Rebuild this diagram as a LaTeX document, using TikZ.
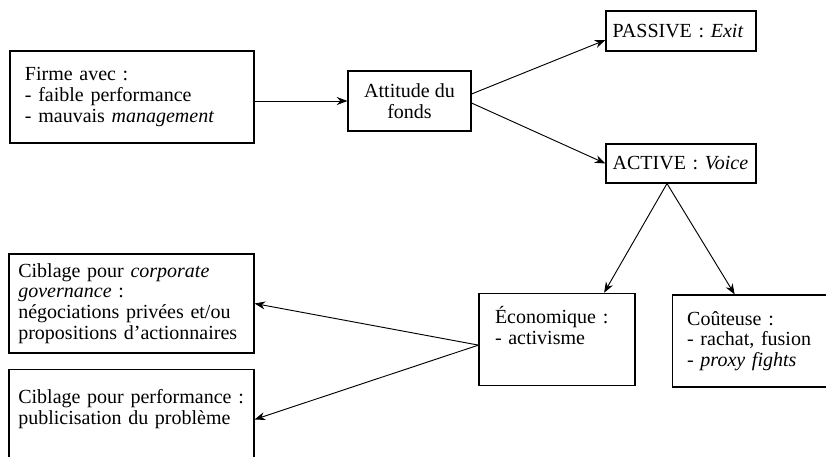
\documentclass[tikz,border=0pt]{standalone}
\usepackage{fontspec}
\setmainfont{Liberation Serif}
\usetikzlibrary{calc}
\usetikzlibrary{arrows.meta}
\tikzset{
    % Pointed arrow heads for every flow
    >={Stealth[length=8pt,width=6pt]},
%
    % Boxes of the diagram
    box/.style={draw, line width=0.8pt, inner sep=0pt,
        font=\fontsize{15}{15.5}\selectfont},
    left box/.style={box, align=left},
    % Lines between boxes
    flow/.style={line width=0.7pt, ->},
%
    % Centred text unless a box says otherwise
    every node/.style={align=center},
}

\begin{document}
\begin{tikzpicture}[x=0.75pt, y=-0.75pt]

% Fix the extent of the page
\useasboundingbox (0,0) rectangle (826,457);

% Firm and fund
\node [left box, inner xsep=11.25pt, text width=160.5pt, minimum height=69pt]
    (firm) at (132,97)
    {Firme avec :\\- faible performance\\- mauvais \textit{management}};
\node [box, minimum width=92.25pt, minimum height=45pt]
    (attitude) at (409.5,101) {Attitude du\\fonds};
\draw [flow] (firm.east |- attitude.west) -- (attitude.west);

% Two attitudes
\node [left box, inner xsep=5pt, text width=102.5pt, minimum height=30pt]
    (passive) at (681,31) {PASSIVE : \textit{Exit}};
\node [left box, inner xsep=5pt, text width=102.5pt, minimum height=29.25pt]
    (active) at (681,163.5) {ACTIVE : \textit{Voice}};
\draw [flow] ([yshift=5.25pt]attitude.east) -- ([yshift=-6.75pt]passive.west);
\draw [flow] ([yshift=-1.5pt]attitude.east) -- (active.west);

% Kinds of voice
\node [left box, inner xsep=12pt, inner ysep=9.75pt, text width=93pt,
    text depth=37pt] (eco) at (557,339.5) {Économique :\\- activisme};
\node [left box, inner xsep=11.25pt, text width=95pt, minimum height=69pt]
    (cost) at (750.5,341) {Coûteuse :\\- rachat, fusion\\- \textit{proxy fights}};
\coordinate (split) at ([xshift=-10.5pt]active.south);
\draw [flow] (split) -- ($(eco.north west)!0.8!(eco.north east)$);
\draw [flow] (split) -- ($(cost.north west)!0.4!(cost.north east)$);

% Targeting
\node [left box, inner xsep=7pt, text width=169.75pt, minimum height=74.25pt]
    (cg) at (131.5,303.5)
    {Ciblage pour \textit{corporate}\\\textit{governance} :\\négociations privées et/ou\\propositions d'actionnaires};
\node [left box, inner xsep=7pt, inner ysep=15pt, text width=169.75pt,
    text depth=34.75pt] (perf) at (131.5,419.5)
    {Ciblage pour performance :\\publicisation du problème};
\coordinate (fan) at ($(eco.north west)!0.56!(eco.south west)$);
\draw [flow] (fan) -- (cg.east);
\draw [flow] (fan) -- (perf.east);

\end{tikzpicture}
\end{document}
